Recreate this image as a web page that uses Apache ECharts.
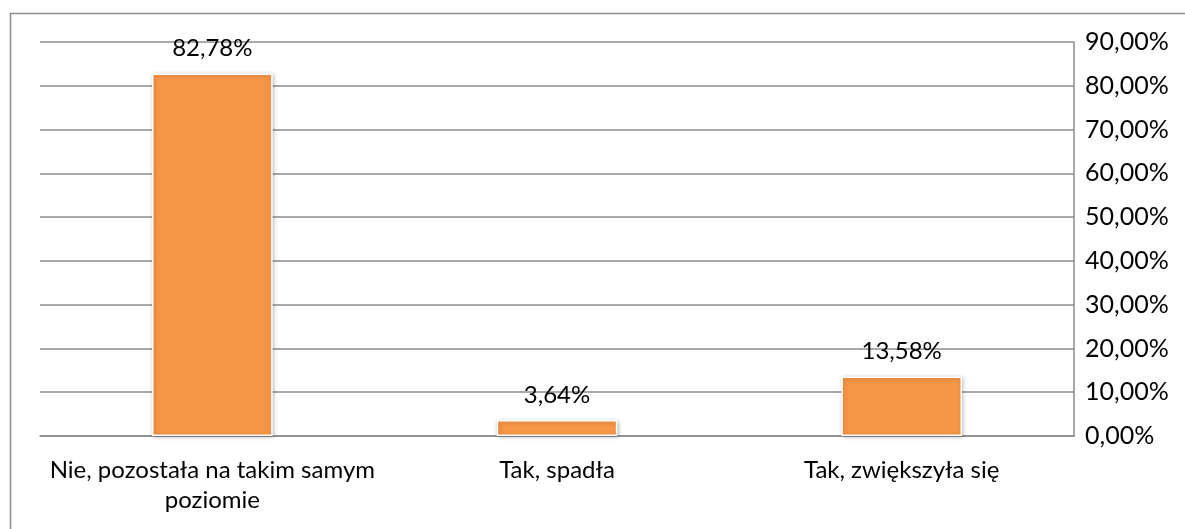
<!DOCTYPE html>
<html>
<head>
<meta charset="utf-8">
<script src="https://cdn.jsdelivr.net/npm/echarts@6/dist/echarts.min.js"></script>
<style>
  html, body { margin: 0; padding: 0; background: #fff; }
  #chart { width: 1185px; height: 529px; }
</style>
</head>
<body>
<div id="chart"></div>
<script>
var categories = ['Nie, pozostała na takim samym\npoziomie', 'Tak, spadła', 'Tak, zwiększyła się'];
var values = [82.78, 3.64, 13.58];
var yMax = 90;
var yStep = 10;

function pct(v) {
    return v.toFixed(2).replace('.', ',') + '%';
}

var myChart = echarts.init(document.getElementById('chart'));

var option = {
    animation: false,
    textStyle: { fontFamily: 'Lato, "Open Sans", sans-serif' },
    graphic: [{
        type: 'polyline',
        shape: { points: [[10.5, 540], [10.5, 13.5], [1185, 13.5]] },
        style: { fill: 'none', stroke: '#8c8c8c', lineWidth: 1.5 },
        silent: true
    }],
    grid: {
        left: 40,
        right: 111,
        top: 42,
        bottom: 93
    },
    xAxis: {
        type: 'category',
        data: categories,
        axisLine: { show: true, lineStyle: { color: '#8c8c8c', width: 1.5 } },
        axisTick: { show: false },
        axisLabel: {
            interval: 0,
            hideOverlap: false,
            color: '#000',
            fontSize: 24,
            lineHeight: 30,
            margin: 19
        }
    },
    yAxis: {
        type: 'value',
        position: 'right',
        min: 0,
        max: yMax,
        interval: yStep,
        axisLine: { show: true, lineStyle: { color: '#8c8c8c', width: 1.5 } },
        axisTick: { show: false },
        splitLine: { lineStyle: { color: '#8c8c8c', width: 1.5 } },
        axisLabel: {
            color: '#000',
            fontSize: 25,
            margin: 11,
            formatter: function (v) { return pct(v); }
        }
    },
    series: [{
        type: 'bar',
        data: values,
        barWidth: '35%',
        itemStyle: {
            color: '#F79646',
            borderColor: '#ffffff',
            borderWidth: 1.5,
            shadowColor: 'rgba(0,0,0,0.25)',
            shadowBlur: 4,
            shadowOffsetX: 1,
            shadowOffsetY: 1
        },
        label: {
            show: true,
            position: 'top',
            distance: 13,
            color: '#000',
            fontSize: 24,
            formatter: function (p) { return pct(p.value); }
        }
    }]
};

myChart.setOption(option);
</script>
</body>
</html>
